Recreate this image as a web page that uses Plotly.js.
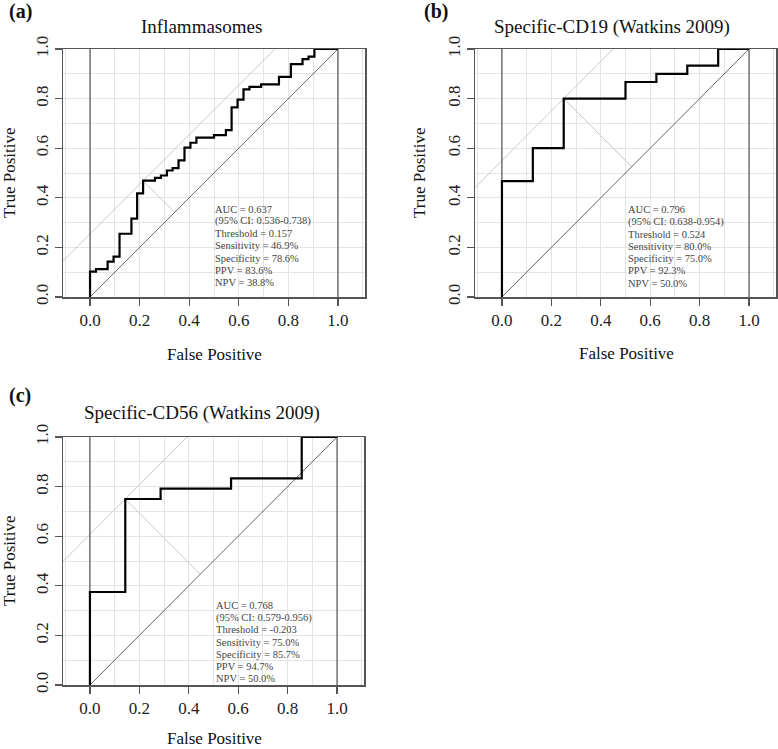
<!DOCTYPE html>
<html>
<head>
<meta charset="utf-8">
<script src="https://cdn.plot.ly/plotly-3.0.1.min.js"></script>
<style>
  html, body { margin: 0; padding: 0; background: #fff; }
  #chart { width: 778px; height: 749px; }
</style>
</head>
<body>
<div id="chart"></div>
<script>
// ROC curve corner points (false positive rate, true positive rate)
const fprA = [0, 0, 0.024, 0.071, 0.095, 0.119, 0.167, 0.190, 0.214, 0.262, 0.286, 0.310, 0.333, 0.357, 0.381,
  0.405, 0.429, 0.500, 0.548, 0.571, 0.595, 0.619, 0.643, 0.690, 0.762, 0.810, 0.857, 0.881, 0.905, 1.0];
const tprA = [0, 0.102, 0.112, 0.143, 0.163, 0.255, 0.316, 0.418, 0.469, 0.480, 0.490, 0.510, 0.520, 0.551, 0.602,
  0.622, 0.643, 0.653, 0.673, 0.765, 0.796, 0.837, 0.847, 0.857, 0.888, 0.939, 0.959, 0.969, 1.0, 1.0];

const fprB = [0, 0, 0.125, 0.25, 0.5, 0.625, 0.75, 0.875, 1.0];
const tprB = [0, 0.467, 0.6, 0.8, 0.867, 0.9, 0.933, 1.0, 1.0];

const fprC = [0, 0, 0.143, 0.286, 0.571, 0.857, 1.0];
const tprC = [0, 0.375, 0.75, 0.792, 0.833, 1.0, 1.0];

// Optimal cut-off point (1 - specificity, sensitivity)
const optA = [0.214, 0.469];
const optB = [0.25, 0.8];
const optC = [0.143, 0.75];

const titles = ['Inflammasomes', 'Specific-CD19 (Watkins 2009)', 'Specific-CD56 (Watkins 2009)'];
const panelTags = ['(a)', '(b)', '(c)'];

const statsA = ['AUC = 0.637', '(95% CI: 0.536-0.738)', 'Threshold = 0.157', 'Sensitivity = 46.9%',
  'Specificity = 78.6%', 'PPV = 83.6%', 'NPV = 38.8%'];
const statsB = ['AUC = 0.796', '(95% CI: 0.638-0.954)', 'Threshold = 0.524', 'Sensitivity = 80.0%',
  'Specificity = 75.0%', 'PPV = 92.3%', 'NPV = 50.0%'];
const statsC = ['AUC = 0.768', '(95% CI: 0.579-0.956)', 'Threshold = -0.203', 'Sensitivity = 75.0%',
  'Specificity = 85.7%', 'PPV = 94.7%', 'NPV = 50.0%'];

const tickVals = [0, 0.2, 0.4, 0.6, 0.8, 1.0];
const tickText = ['0.0', '0.2', '0.4', '0.6', '0.8', '1.0'];

const W = 778, H = 749;
const FONT = '"Liberation Serif", serif';
const X_RANGE = [-0.109, 1.109];

// Pixel boxes of the three plot regions: [left, right, top, bottom]
const boxes = [
  [63, 365, 49, 297],
  [475, 776, 49, 297],
  [63, 364, 437, 685]
];

const px = x => x / W;
const py = y => 1 - y / H;
const axId = (i, a) => i === 0 ? a : a + (i + 1);

function axisPair(i) {
  const b = boxes[i];
  const common = {
    showline: true, mirror: true, linecolor: '#555', linewidth: 1.5,
    ticks: 'outside', ticklen: 7, tickwidth: 1.2, tickcolor: '#555',
    showgrid: true, gridcolor: '#e4e4e4', gridwidth: 1,
    zeroline: false, fixedrange: true,
    tickmode: 'array', tickvals: tickVals, ticktext: tickText,
    tickfont: { family: FONT, size: 17, color: '#222' },
    minor: { dtick: 0.1, tick0: 0, showgrid: true, gridcolor: '#e4e4e4', gridwidth: 1, ticks: '' }
  };
  const xa = Object.assign({}, common, {
    domain: [px(b[0]), px(b[1])], range: X_RANGE, anchor: axId(i, 'y')
  });
  const ya = Object.assign({}, common, {
    domain: [py(b[3]), py(b[2])], range: [0, 1], tickangle: -90, anchor: axId(i, 'x')
  });
  return [xa, ya];
}

function panelTraces(i, fpr, tpr, opt) {
  const base = { xaxis: axId(i, 'x'), yaxis: axId(i, 'y'), mode: 'lines', hoverinfo: 'skip', type: 'scatter' };
  const c = opt[1] - opt[0];
  const foot = (opt[0] + opt[1]) / 2;
  return [
    // guide line through the optimal point, parallel to the diagonal
    Object.assign({}, base, { x: [-0.2, 1 - c], y: [-0.2 + c, 1], line: { color: '#c8c8c8', width: 1 } }),
    // perpendicular from the optimal point to the diagonal
    Object.assign({}, base, { x: [opt[0], foot], y: [opt[1], foot], line: { color: '#c8c8c8', width: 1 } }),
    // chance diagonal
    Object.assign({}, base, { x: [0, 1], y: [0, 1], line: { color: '#666', width: 1 } }),
    // vertical guides at 0 and 1
    Object.assign({}, base, { x: [0, 0], y: [0, 1], line: { color: '#333', width: 1 } }),
    Object.assign({}, base, { x: [1, 1], y: [0, 1], line: { color: '#333', width: 1 } }),
    // ROC step curve
    Object.assign({}, base, { x: fpr, y: tpr, line: { color: '#000', width: 2.2, shape: 'hv' } })
  ];
}

const data = [].concat(
  panelTraces(0, fprA, tprA, optA),
  panelTraces(1, fprB, tprB, optB),
  panelTraces(2, fprC, tprC, optC)
);

const layout = {
  width: W, height: H,
  margin: { l: 0, r: 0, t: 0, b: 0 },
  paper_bgcolor: '#fff', plot_bgcolor: '#fff',
  showlegend: false,
  font: { family: FONT, color: '#111' },
  annotations: []
};

[0, 1, 2].forEach(i => {
  const [xa, ya] = axisPair(i);
  layout[axId(i, 'xaxis')] = xa;
  layout[axId(i, 'yaxis')] = ya;
});

// Text positions in pixels: tag, title, x title, y title
const textPos = [
  { tag: [7, 12], title: [201, 27], xt: [214, 354], yt: [9, 173] },
  { tag: [422, 12], title: [612, 27], xt: [626, 353], yt: [419, 173] },
  { tag: [7, 395], title: [202, 413], xt: [214, 738], yt: [9, 561] }
];
// stats block: left edge (data x), first line centre (data y), line step (data units)
const statPos = [[0.497, 0.354], [0.504, 0.351], [0.501, 0.321]];
const LINE_STEP = 0.0492;
const stats = [statsA, statsB, statsC];

textPos.forEach((p, i) => {
  const ann = layout.annotations;
  ann.push({ xref: 'paper', yref: 'paper', x: px(p.tag[0]), y: py(p.tag[1]), xanchor: 'left', yanchor: 'middle',
    text: '<b>' + panelTags[i] + '</b>', showarrow: false, font: { family: FONT, size: 20, color: '#111' } });
  ann.push({ xref: 'paper', yref: 'paper', x: px(p.title[0]), y: py(p.title[1]), xanchor: 'center', yanchor: 'middle',
    text: titles[i], showarrow: false, font: { family: FONT, size: 19, color: '#111' } });
  ann.push({ xref: 'paper', yref: 'paper', x: px(p.xt[0]), y: py(p.xt[1]), xanchor: 'center', yanchor: 'middle',
    text: 'False Positive', showarrow: false, font: { family: FONT, size: 17, color: '#111' } });
  ann.push({ xref: 'paper', yref: 'paper', x: px(p.yt[0]), y: py(p.yt[1]), xanchor: 'center', yanchor: 'middle',
    text: 'True Positive', textangle: -90, showarrow: false, font: { family: FONT, size: 17, color: '#111' } });
  stats[i].forEach((line, k) => {
    ann.push({ xref: axId(i, 'x'), yref: axId(i, 'y'), x: statPos[i][0], y: statPos[i][1] - k * LINE_STEP,
      xanchor: 'left', yanchor: 'middle', text: line, showarrow: false,
      font: { family: FONT, size: 10.5, color: '#444' } });
  });
});

Plotly.newPlot('chart', data, layout, { displayModeBar: false, staticPlot: true });
</script>
</body>
</html>
